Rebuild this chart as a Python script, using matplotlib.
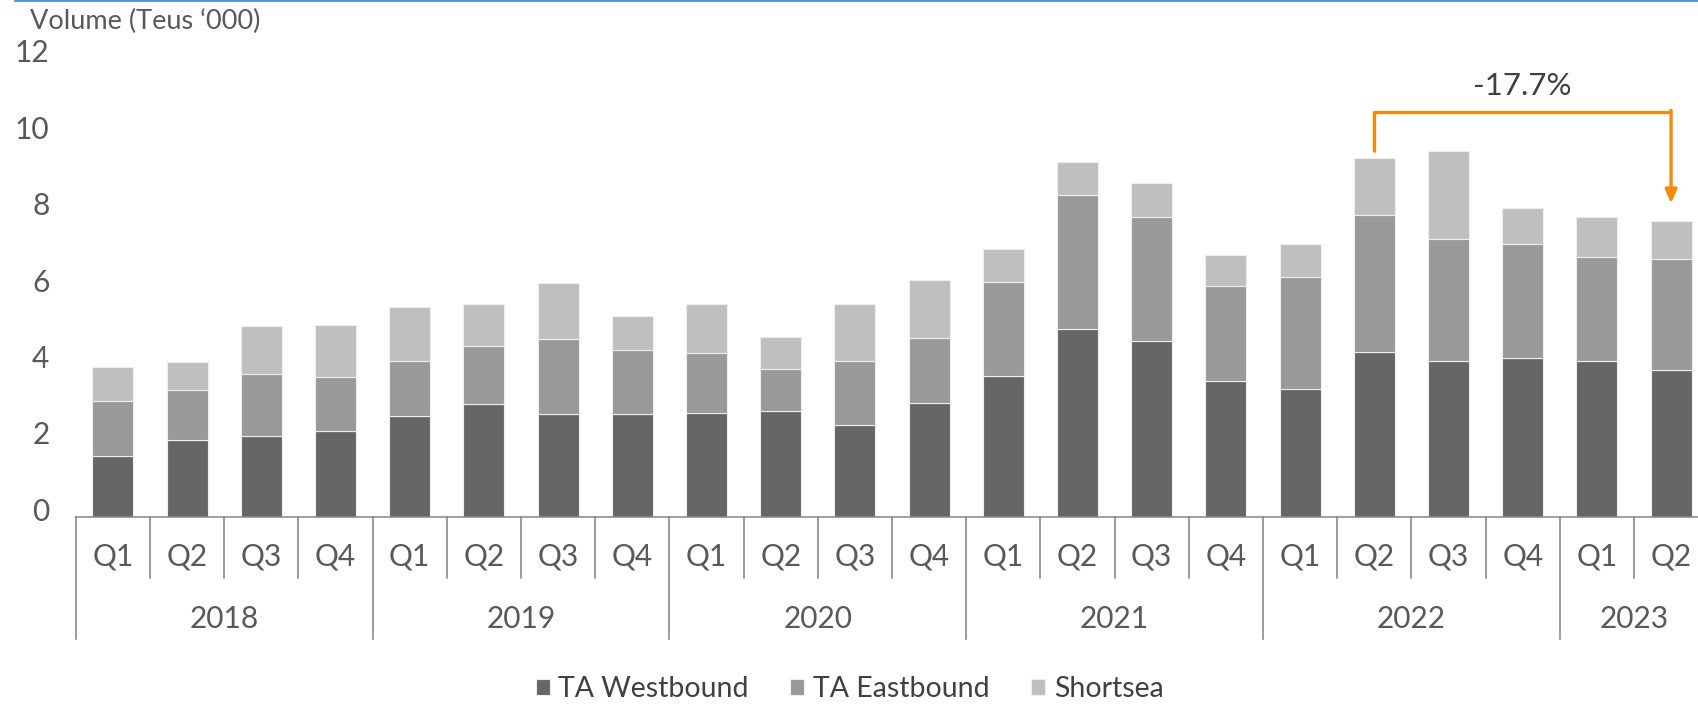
import numpy as np
import matplotlib
matplotlib.use("Agg")
import matplotlib.pyplot as plt
import matplotlib.transforms as mtrans
from matplotlib.lines import Line2D

# data (Teus '000)
years = ["2018", "2019", "2020", "2021", "2022", "2023"]
quarters_per_year = [4, 4, 4, 4, 4, 2]
quarter_labels = ["Q1", "Q2", "Q3", "Q4"] * 5 + ["Q1", "Q2"]

ta_westbound = [1.61, 2.03, 2.14, 2.27, 2.66, 2.97, 2.71, 2.71, 2.73, 2.78, 2.42,
                3.00, 3.71, 4.92, 4.62, 3.58, 3.37, 4.32, 4.10, 4.16, 4.08, 3.86]
ta_eastbound = [1.44, 1.29, 1.62, 1.41, 1.44, 1.51, 1.96, 1.66, 1.56, 1.11, 1.66,
                1.70, 2.45, 3.52, 3.24, 2.47, 2.91, 3.59, 3.18, 3.00, 2.74, 2.91]
shortsea = [0.88, 0.74, 1.24, 1.35, 1.40, 1.10, 1.46, 0.90, 1.29, 0.83, 1.50,
            1.51, 0.86, 0.87, 0.88, 0.81, 0.88, 1.50, 2.31, 0.94, 1.04, 0.98]

series_names = ["TA Westbound", "TA Eastbound", "Shortsea"]
colors = ["#666666", "#999999", "#bfbfbf"]

change_from, change_to = 17, 21   # 2022 Q2 -> 2023 Q2
change_label = "-17.7%"

plt.rcParams['font.family'] = ['Lato', 'DejaVu Sans']
TXT = "#595959"
FS = 21.5

fig = plt.figure(figsize=(16.99, 7.07), dpi=100)
W, H = 1699.0, 707.0
left_px, cat_px = 75.8, 74.2
base_px, top_px = 517.3, 58.9
n = len(quarter_labels)
ax = fig.add_axes([left_px / W, 1 - base_px / H, n * cat_px / W, (base_px - top_px) / H])

x = np.arange(n)
west = np.array(ta_westbound)
east = np.array(ta_eastbound)
short = np.array(shortsea)
bw = 0.55
b1 = ax.bar(x, west, bw, color=colors[0], edgecolor="#eeeeee", linewidth=0.8, label=series_names[0])
b2 = ax.bar(x, east, bw, bottom=west, color=colors[1], edgecolor="#eeeeee", linewidth=0.8, label=series_names[1])
b3 = ax.bar(x, short, bw, bottom=west + east, color=colors[2], edgecolor="#eeeeee", linewidth=0.8, label=series_names[2])

ax.set_xlim(-0.5, n - 0.5)
ax.set_ylim(0, 12)
ax.set_yticks(np.arange(0, 13, 2))
ax.tick_params(axis='y', length=0, pad=19, labelsize=FS, labelcolor=TXT)
ax.set_xticks([])
for s in ["left", "right", "top"]:
    ax.spines[s].set_visible(False)
ax.spines["bottom"].set_color("#868686")
ax.spines["bottom"].set_linewidth(1.1)

# excel draws the value labels a little above the gridline
off = mtrans.ScaledTranslation(0, 0.08, fig.dpi_scale_trans)
for lab in ax.get_yticklabels():
    lab.set_transform(lab.get_transform() + off)

# multi-level category axis
def ay(px):
    return (base_px - px) / (base_px - top_px)

tr = mtrans.blended_transform_factory(ax.transData, ax.transAxes)
for i, q in enumerate(quarter_labels):
    ax.text(i, ay(557), q, transform=tr, ha="center", va="center", fontsize=FS, color=TXT)
start = 0
bounds = [0]
for yr, cnt in zip(years, quarters_per_year):
    ax.text(start + (cnt - 1) / 2, ay(619), yr, transform=tr, ha="center", va="center",
            fontsize=FS, color=TXT)
    for k in range(1, cnt):
        ax.add_line(Line2D([start + k - 0.5] * 2, [0, ay(578)], transform=tr, color="#808080",
                           lw=1.1, clip_on=False))
    start += cnt
    bounds.append(start)
for b in bounds:
    ax.add_line(Line2D([b - 0.5] * 2, [0, ay(639)], transform=tr, color="#808080",
                       lw=1.1, clip_on=False))

# change annotation
total = west + east + short
orange = "#f28a0a"
bracket_y = total.max() + 1.03
ax.plot([change_from, change_from, change_to], [total[change_from] + 0.14, bracket_y, bracket_y],
        color=orange, lw=2.4, solid_capstyle="butt", clip_on=False)
ax.annotate("", xy=(change_to, total[change_to] + 0.47), xytext=(change_to, bracket_y + 0.03),
            arrowprops=dict(arrowstyle="-|>,head_length=0.8,head_width=0.35", color=orange, lw=2.4,
                            shrinkA=0, shrinkB=0))
ax.text((change_from + change_to) / 2, bracket_y + 0.66, change_label, ha="center", va="center",
        fontsize=22.5, color="#404040")

fig.text(30 / W, 1 - 21 / H, "Volume (Teus \u2018000)", ha="left", va="center", fontsize=19.5, color=TXT)
fig.add_artist(Line2D([15 / W, 1], [1 - 1 / H, 1 - 1 / H], color="#3a7bd5", lw=1.2))

leg = fig.legend(handles=[b1, b2, b3], loc="center", bbox_to_anchor=(0.5, 1 - 689 / H), ncol=3,
                 frameon=False, fontsize=20.5, handlelength=0.5, handleheight=0.5,
                 handletextpad=0.3, columnspacing=1.45)
for t in leg.get_texts():
    t.set_color("#404040")

fig.savefig("out.png", dpi=100)
